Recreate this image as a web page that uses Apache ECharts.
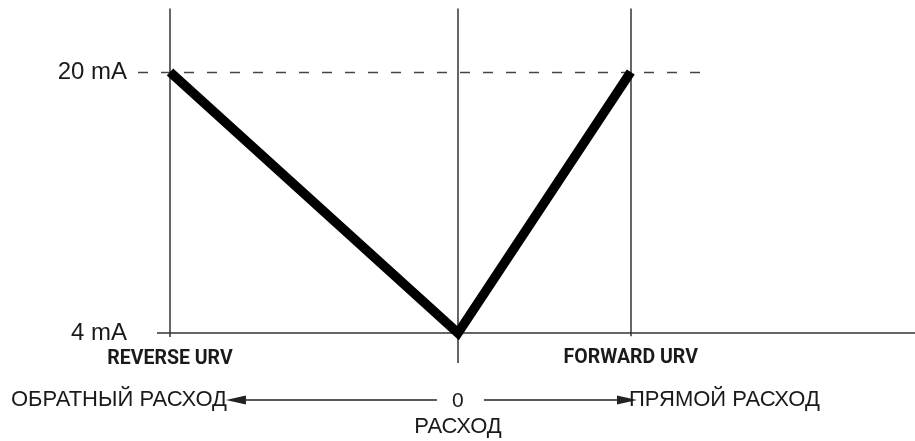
<!DOCTYPE html>
<html>
<head>
<meta charset="utf-8">
<script src="https://cdn.jsdelivr.net/npm/echarts@6/dist/echarts.min.js"></script>
<style>
html,body{margin:0;padding:0;background:#fff;}
#chart{width:915px;height:441px;}
</style>
</head>
<body>
<div id="chart"></div>
<script>
// Flow values (x) and current output in mA (y)
var flowPoints = [-100, 0, 60];          // reverse URV, zero flow, forward URV
var currentValues = [20, 4, 20];         // mA at those flows
var yTickValues = [4, 20];
var yTickLabels = ['4 mA', '20 mA'];
var urvNames = ['REVERSE URV', 'FORWARD URV'];
var zeroLabel = '0';
var axisTitle = 'РАСХОД';
var reverseText = 'ОБРАТНЫЙ РАСХОД';
var forwardText = 'ПРЯМОЙ РАСХОД';

var chart = echarts.init(document.getElementById('chart'), null, {renderer: 'canvas'});

var seriesData = flowPoints.map(function (x, i) { return [x, currentValues[i]]; });

var lineColor = '#333';
var textColor = '#1a1a1a';
var narrowFont = 'Roboto, sans-serif';
var topV = 23.9;
var arrowY = -0.1;

var markLines = [
  // baseline at 4 mA
  [{coord: [-104.5, yTickValues[0]], lineStyle: {color: lineColor, width: 1.6, type: 'solid'}},
   {coord: [158.7, yTickValues[0]]}],
  // dashed line at 20 mA
  [{coord: [-111.1, yTickValues[1]], lineStyle: {color: '#444', width: 1.3, type: [10, 13]}},
   {coord: [86, yTickValues[1]]}],
  // reverse URV vertical
  [{coord: [flowPoints[0], topV], lineStyle: {color: lineColor, width: 1.5, type: 'solid'},
    label: {show: true, position: 'end', distance: 12, formatter: urvNames[0],
      fontFamily: narrowFont, fontSize: 19.5, fontWeight: 'bold', color: textColor}},
   {coord: [flowPoints[0], 3.75]}],
  // zero vertical
  [{coord: [flowPoints[1], topV], lineStyle: {color: lineColor, width: 1.5, type: 'solid'},
    label: {show: true, position: 'end', distance: 25,
      formatter: '{z|' + zeroLabel + '}\n{n|' + axisTitle + '}',
      rich: {
        z: {fontFamily: 'Liberation Sans', fontSize: 21, color: textColor, lineHeight: 27, align: 'center'},
        n: {fontFamily: 'Liberation Sans', fontSize: 22, color: textColor, lineHeight: 24, align: 'center'}
      }}},
   {coord: [flowPoints[1], 2.16]}],
  // forward URV vertical
  [{coord: [flowPoints[2], topV], lineStyle: {color: lineColor, width: 1.5, type: 'solid'},
    label: {show: true, position: 'end', distance: 12, formatter: urvNames[1],
      fontFamily: narrowFont, fontSize: 19.5, fontWeight: 'bold', color: textColor}},
   {coord: [flowPoints[2], 3.8]}],
  // reverse flow arrow
  [{coord: [-7.3, arrowY], symbol: 'none', lineStyle: {color: '#222', width: 1.6, type: 'solid'},
    label: {show: true, position: 'end', distance: 9, formatter: reverseText,
      fontFamily: 'Liberation Sans', fontSize: 22, color: textColor}},
   {coord: [-77.1, arrowY], symbol: 'triangle', symbolSize: [9, 20]}],
  // forward flow arrow
  [{coord: [9.0, arrowY], symbol: 'none', lineStyle: {color: '#222', width: 1.6, type: 'solid'},
    label: {show: true, position: 'end', distance: 2, formatter: forwardText,
      fontFamily: 'Liberation Sans', fontSize: 22, color: textColor}},
   {coord: [58.7, arrowY], symbol: 'triangle', symbolSize: [9, 20]}]
];

var option = {
  animation: false,
  backgroundColor: '#fff',
  grid: {left: 138, right: 0, top: 6.75, bottom: 10.125, containLabel: false},
  xAxis: {
    type: 'value', min: -111.1, max: 158.7, show: false
  },
  yAxis: {
    type: 'value', min: -2, max: 24,
    axisLine: {show: false}, axisTick: {show: false}, splitLine: {show: false},
    axisLabel: {
      customValues: yTickValues,
      margin: 11,
      fontFamily: 'Liberation Sans', fontSize: 24, color: textColor,
      formatter: function (v) {
        var i = yTickValues.indexOf(v);
        return i >= 0 ? yTickLabels[i] : '';
      }
    }
  },
  series: [{
    type: 'line',
    data: seriesData,
    symbol: 'none',
    clip: false,
    z: 5,
    lineStyle: {color: '#000', width: 9.5, cap: 'butt', join: 'miter'},
    markLine: {
      silent: true,
      animation: false,
      symbol: ['none', 'none'],
      label: {show: false},
      emphasis: {disabled: true},
      data: markLines
    }
  }]
};
chart.setOption(option);
</script>
</body>
</html>
